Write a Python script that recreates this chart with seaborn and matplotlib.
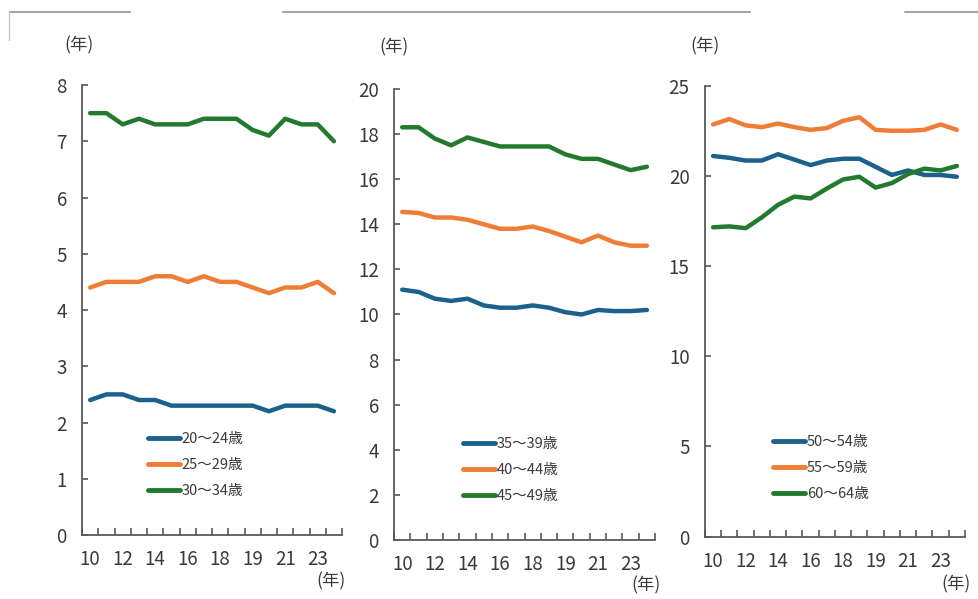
import numpy as np
import pandas as pd
import matplotlib
matplotlib.use("Agg")
import matplotlib.pyplot as plt
from matplotlib.lines import Line2D
from matplotlib import font_manager
import seaborn as sns

# ---- data ----
categories = ["10", "11", "12", "13", "14", "15", "16", "17", "18", "18b", "19", "20", "21", "22", "23", "24"]
tick_labels = ["10", "12", "14", "16", "18", "19", "21", "23"]

age_20_24 = [2.4, 2.5, 2.5, 2.4, 2.4, 2.3, 2.3, 2.3, 2.3, 2.3, 2.3, 2.2, 2.3, 2.3, 2.3, 2.2]
age_25_29 = [4.4, 4.5, 4.5, 4.5, 4.6, 4.6, 4.5, 4.6, 4.5, 4.5, 4.4, 4.3, 4.4, 4.4, 4.5, 4.3]
age_30_34 = [7.5, 7.5, 7.3, 7.4, 7.3, 7.3, 7.3, 7.4, 7.4, 7.4, 7.2, 7.1, 7.4, 7.3, 7.3, 7.0]

age_35_39 = [11.1, 11.0, 10.7, 10.6, 10.7, 10.4, 10.3, 10.3, 10.4, 10.3, 10.1, 10.0, 10.2, 10.15, 10.15, 10.2]
age_40_44 = [14.55, 14.5, 14.3, 14.3, 14.2, 14.0, 13.8, 13.8, 13.9, 13.7, 13.45, 13.2, 13.5, 13.2, 13.05, 13.05]
age_45_49 = [18.3, 18.3, 17.8, 17.5, 17.85, 17.65, 17.45, 17.45, 17.45, 17.45, 17.1, 16.9, 16.9, 16.65, 16.4, 16.55]

age_50_54 = [21.1, 21.0, 20.85, 20.85, 21.2, 20.9, 20.6, 20.85, 20.95, 20.95, 20.5, 20.05, 20.3, 20.05, 20.05, 19.95]
age_55_59 = [22.85, 23.15, 22.8, 22.7, 22.9, 22.7, 22.55, 22.65, 23.05, 23.25, 22.55, 22.5, 22.5, 22.55, 22.85, 22.55]
age_60_64 = [17.15, 17.2, 17.1, 17.7, 18.4, 18.85, 18.75, 19.3, 19.8, 19.95, 19.35, 19.6, 20.1, 20.4, 20.3, 20.55]

panels = [
    (["20～24歳", "25～29歳", "30～34歳"], [age_20_24, age_25_29, age_30_34], 8, 1),
    (["35～39歳", "40～44歳", "45～49歳"], [age_35_39, age_40_44, age_45_49], 20, 2),
    (["50～54歳", "55～59歳", "60～64歳"], [age_50_54, age_55_59, age_60_64], 25, 5),
]

colors = ["#1B618B", "#EE7D36", "#237A2E"]

# ---- style ----
sns.set_style("ticks")
plt.rcParams['font.family'] = ['Noto Sans CJK JP', 'DejaVu Sans']

installed = {f.name for f in font_manager.fontManager.ttflist}
num_family = "Liberation Sans Narrow" if "Liberation Sans Narrow" in installed else "Noto Sans CJK JP"

fig = plt.figure(figsize=(9.79, 5.99), dpi=100)

rects = [
    (0.0838, 0.1068, 0.2656, 0.7513),
    (0.4025, 0.0985, 0.2666, 0.7530),
    (0.7201, 0.1040, 0.2656, 0.7530),
]
legend_anchor = [(0.254, 0.228), (0.265, 0.2275), (0.262, 0.2246)]
xunit_pos = [(0.958, -0.104), (0.966, -0.100), (0.965, -0.105)]
yunit_pos = [(-0.012, 1.088), (0.0, 1.093), (0.0, 1.086)]

spine_col = "#595959"
text_col = "#3a3a3a"

for i, (labels, series, ymax, ystep) in enumerate(panels):
    ax = fig.add_axes(rects[i])
    rows = []
    for lab, vals in zip(labels, series):
        for j, v in enumerate(vals):
            rows.append({"x": j, "value": v, "series": lab})
    df = pd.DataFrame(rows)
    sns.lineplot(data=df, x="x", y="value", hue="series", hue_order=labels,
                 palette=colors, linewidth=3.2, ax=ax, legend=True)

    ax.set_xlim(-0.5, len(categories) - 0.5)
    ax.set_ylim(0, ymax)
    yt = np.arange(0, ymax + 0.001, ystep)
    ax.set_yticks(yt)
    ax.set_yticklabels([str(int(t)) for t in yt])
    ax.set_xticks(np.arange(0, 15, 2))
    ax.set_xticklabels(tick_labels)
    ax.set_xticks(np.arange(-0.5, len(categories)), minor=True)
    ax.tick_params(axis='x', which='major', length=0, pad=10, colors=text_col)
    ax.tick_params(axis='x', which='minor', direction='in', length=5, width=1.2, color=spine_col)
    ax.tick_params(axis='y', which='major', direction='in', length=4, width=1.2, pad=11,
                   colors=text_col, color=spine_col)
    for lbl in ax.get_xticklabels() + ax.get_yticklabels():
        lbl.set_fontfamily(num_family)
        lbl.set_fontsize(13.5)
    for side in ["top", "right"]:
        ax.spines[side].set_visible(False)
    for side in ["left", "bottom"]:
        ax.spines[side].set_color(spine_col)
        ax.spines[side].set_linewidth(1.3)
    ax.set_xlabel("")
    ax.set_ylabel("")

    leg = ax.legend(loc="upper left", bbox_to_anchor=legend_anchor[i], frameon=False,
                    fontsize=10.5, handlelength=2.2, handletextpad=0.1, labelspacing=0.82,
                    borderpad=0, borderaxespad=0)
    for t in leg.get_texts():
        t.set_color(text_col)
    for h in leg.get_lines():
        h.set_linewidth(3.5)

    ax.text(yunit_pos[i][0], yunit_pos[i][1], "(年)", transform=ax.transAxes,
            ha="center", va="center", fontsize=12.5, color=text_col)
    ax.text(xunit_pos[i][0], xunit_pos[i][1], "(年)", transform=ax.transAxes,
            ha="center", va="center", fontsize=12.5, color=text_col)

# top decorative rules
for x0, x1 in [(10, 130), (283, 750), (905, 979)]:
    fig.add_artist(Line2D([x0 / 979, x1 / 979], [1 - 12 / 599, 1 - 12 / 599],
                          color="#a6a6a6", linewidth=1.5))
fig.add_artist(Line2D([9 / 979, 9 / 979], [1 - 12 / 599, 1 - 40 / 599],
                      color="#c8c8c8", linewidth=1.0))

fig.savefig("out.png", dpi=100)
